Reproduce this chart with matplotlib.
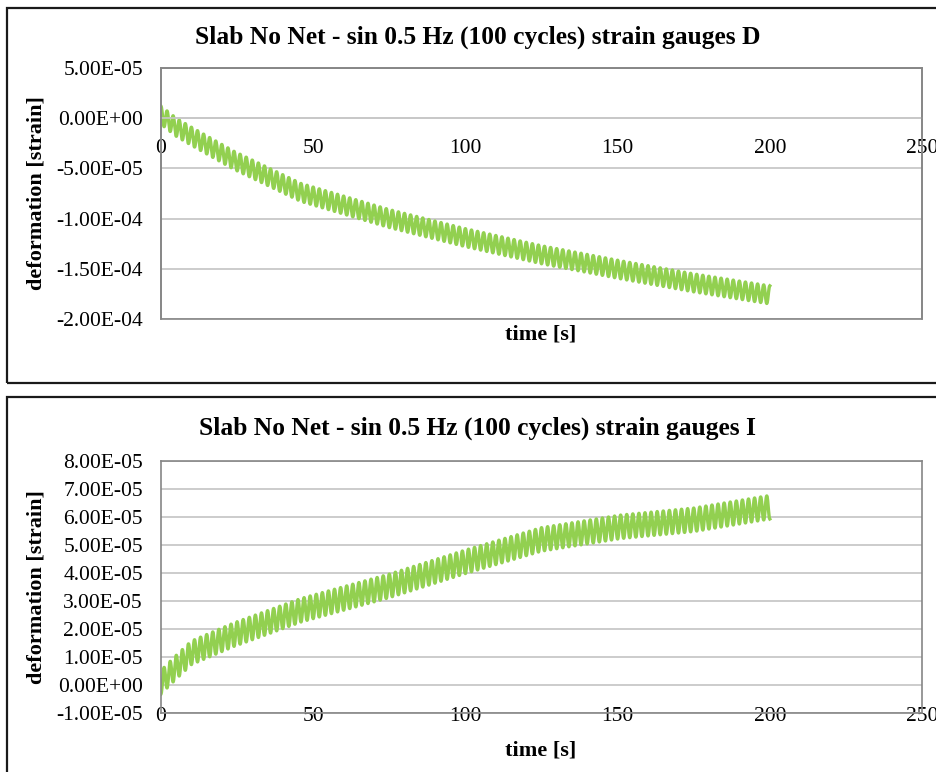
import numpy as np
import matplotlib
matplotlib.use('Agg')
import matplotlib.pyplot as plt
from matplotlib.patches import Rectangle
from matplotlib.ticker import MultipleLocator, FuncFormatter

# 0.5 Hz sine load, 100 cycles; drift of each gauge read at these times [s]
freq = 0.5
t_read = [0, 5, 10, 24, 46, 75, 100, 125, 151, 175, 200]
drift_D = [0.3, -0.9, -1.8, -4.2, -7.4, -10.0, -11.9, -13.6, -15.1, -16.4, -17.6]   # x1e-5 strain
drift_I = [0.1, 0.64, 1.15, 1.8, 2.67, 3.54, 4.4, 5.2, 5.65, 5.9, 6.35]            # x1e-5 strain
amp_D = 0.9    # x1e-5 strain
amp_I = 0.42   # x1e-5 strain

titles = ['Slab No Net - sin 0.5 Hz (100 cycles) strain gauges D',
          'Slab No Net - sin 0.5 Hz (100 cycles) strain gauges I']

t = np.arange(0, 200.01, 0.05)
wave = np.cos(2 * np.pi * freq * t)
gauge_D = (np.interp(t, t_read, drift_D) + amp_D * wave) * 1e-5
gauge_I = (np.interp(t, t_read, drift_I) - amp_I * wave) * 1e-5

plt.rcParams['font.family'] = 'Liberation Serif'
W, H = 937, 772
fig = plt.figure(figsize=(W / 100, H / 100), dpi=100)

green = '#92D050'
grid_c = '#C8C8C8'
frame_c = '#868686'
fmt = FuncFormatter(lambda v, p: f'{v:.2E}')


def px(x0, y0, x1, y1):
    return [x0 / W, 1 - y1 / H, (x1 - x0) / W, (y1 - y0) / H]


def setup(ax, lo, hi, step):
    ax.set_xlim(0, 250)
    ax.set_ylim(lo, hi)
    ax.xaxis.set_major_locator(MultipleLocator(50))
    ax.yaxis.set_major_locator(MultipleLocator(step))
    ax.yaxis.set_major_formatter(fmt)
    ax.grid(axis='y', color=grid_c, lw=1.3)
    ax.set_axisbelow(True)
    for s in ax.spines.values():
        s.set_color(frame_c)
        s.set_linewidth(1.2)
    ax.tick_params(length=0, labelsize=15.5, colors='black')
    ax.tick_params(axis='y', pad=13)


# top panel: gauge D
ax1 = fig.add_axes(px(161, 68, 922, 319))
setup(ax1, -2e-4, 5e-5, 5e-5)
ax1.spines['bottom'].set_position(('data', 0))
ax1.spines['bottom'].set_color(grid_c)
ax1.add_patch(Rectangle((0, 0), 1, 1, transform=ax1.transAxes, fill=False,
                        edgecolor=frame_c, lw=1.2, clip_on=False, zorder=3))
ax1.tick_params(axis='x', pad=15)
ax1.plot(t, gauge_D, color=green, lw=2.4)

# bottom panel: gauge I
ax2 = fig.add_axes(px(161, 461, 922, 713))
setup(ax2, -1e-5, 8e-5, 1e-5)
ax2.tick_params(axis='x', pad=-4)
ax2.plot(t, gauge_I, color=green, lw=2.4)

for ax, title, y_title, y_xlab in [(ax1, titles[0], 37, 335), (ax2, titles[1], 428, 750)]:
    y_mid = (ax.get_position().y0 + ax.get_position().y1) / 2
    fig.text(478 / W, 1 - y_title / H, title, fontsize=18.4, fontweight='bold',
             ha='center', va='center')
    fig.text(37 / W, y_mid, 'deformation [strain]', fontsize=16,
             fontweight='bold', rotation=90, ha='center', va='center')
    fig.text(541 / W, 1 - y_xlab / H, 'time [s]', fontsize=16,
             fontweight='bold', ha='center', va='center')

# chart borders
fig.add_artist(Rectangle((7 / W, 1 - 383 / H), 940 / W, 375 / H, fill=False,
                         edgecolor='#1a1a1a', lw=1.6, transform=fig.transFigure))
fig.add_artist(Rectangle((7 / W, -10 / H), 940 / W, (H - 397 + 10) / H, fill=False,
                         edgecolor='#1a1a1a', lw=1.6, transform=fig.transFigure))

fig.savefig('out.png', dpi=100)
